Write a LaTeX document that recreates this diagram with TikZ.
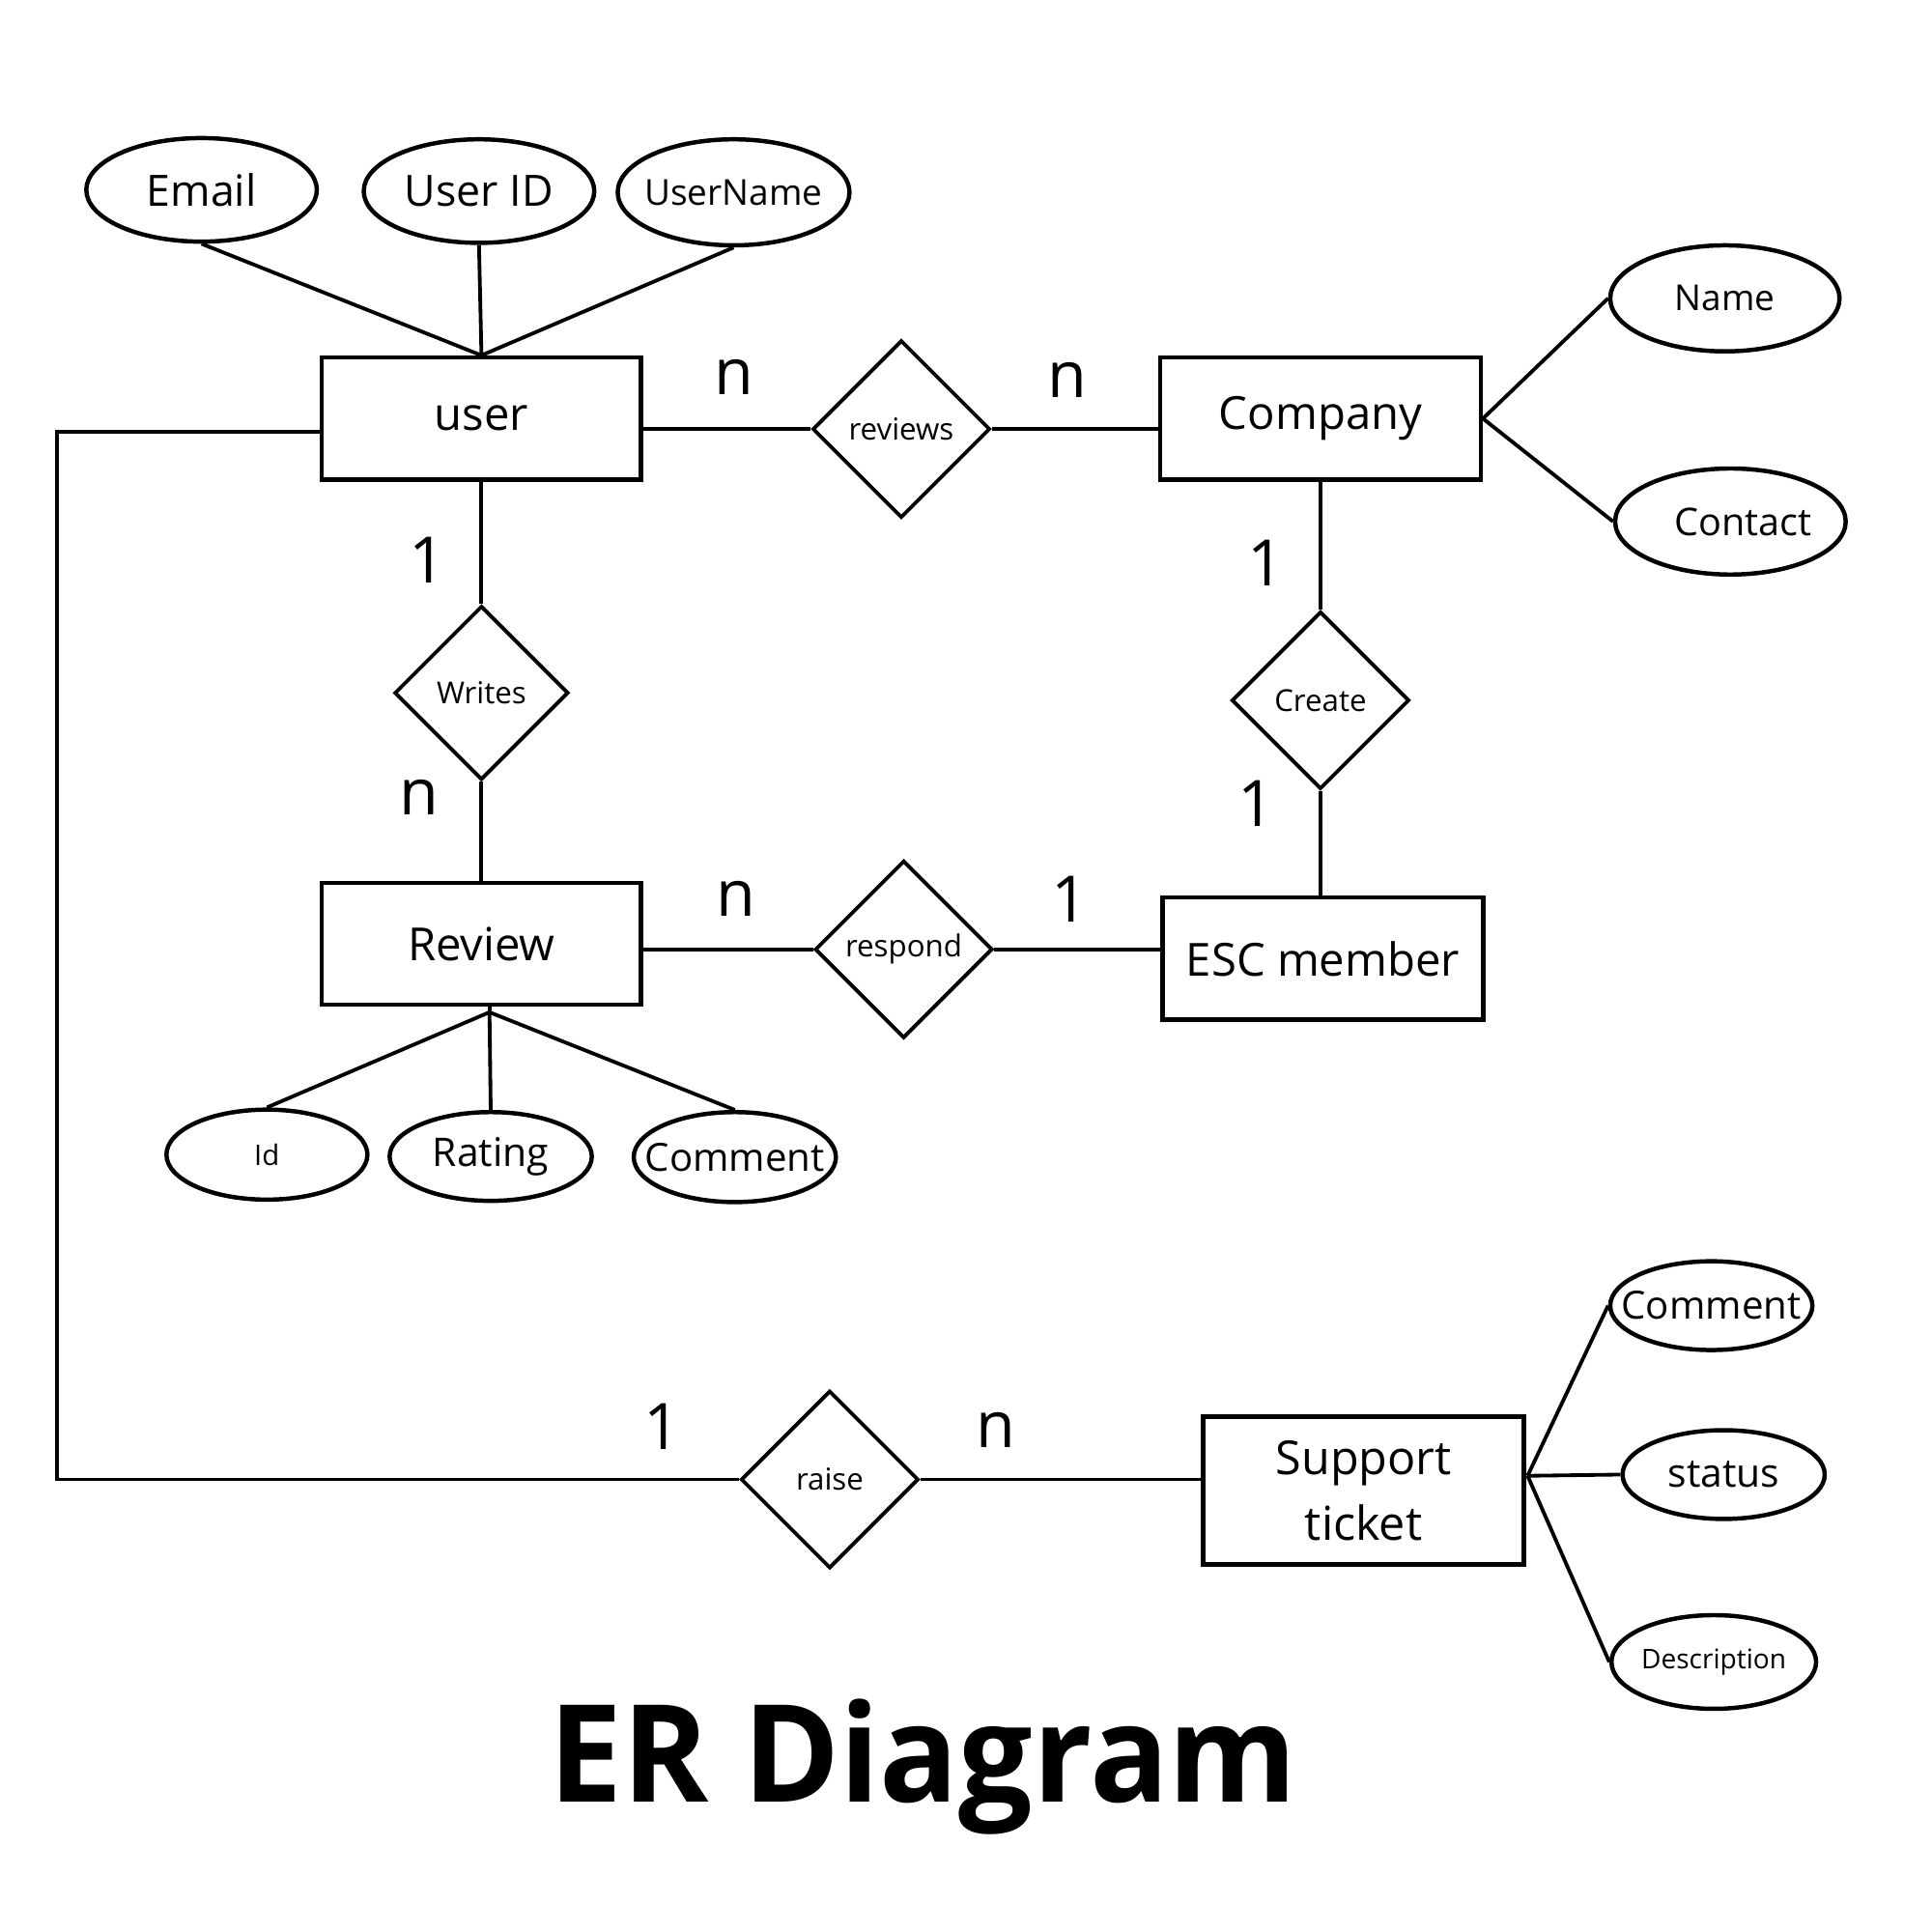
\documentclass[tikz,border=0pt]{standalone}
\usepackage{fontspec}
\setmainfont{Open Sans}
\usetikzlibrary{shapes.geometric}
\newcommand\zw[1]{\makebox[0pt]{#1}}
\tikzset{
  ent/.style={draw, line width=3.5pt, rectangle, minimum width=259pt, minimum height=99pt, inner sep=0pt, font=\fontsize{37}{44}\selectfont},
  rel/.style={draw, line width=3pt, diamond, minimum width=144pt, minimum height=144pt, inner sep=0pt, font=\fontsize{24.5}{29}\selectfont},
  attr/.style={draw, line width=3.5pt, ellipse, inner sep=0pt},
  conn/.style={line width=3pt},
  card/.style={inner sep=0pt, font=\fontsize{52}{60}\selectfont},
}
\begin{document}
\begin{tikzpicture}[x=1pt,y=1pt]
\useasboundingbox (0,-22) rectangle (1567,1545);
\fill[white] (0,-22) rectangle (1567,1545);

% entities
\node[ent] (user) at (390.5,1205.5) {user};
\node[ent, minimum width=260pt] (company) at (1071,1205.5) {Company};
\node[ent] (review) at (390.5,779.5) {Review};
\node[ent, minimum width=260pt] (esc) at (1073,767.5) {ESC member};
\node[ent, minimum width=260pt, minimum height=120pt, align=center, font=\fontsize{38}{53}\selectfont] (ticket) at (1106,336) {Support\\ticket};

% relationships
\node[rel] (reviews) at (731,1197) {reviews};
\node[rel, minimum width=141pt, minimum height=141pt] (writes) at (390.5,983) {Writes};
\node[rel] (create) at (1071,977) {Create};
\node[rel] (respond) at (733,775) {respond};
\node[rel] (raise) at (673,345) {raise};

% attributes
\node[attr, minimum width=187pt, minimum height=84pt, font=\fontsize{35}{42}\selectfont] (email) at (163.5,1391) {\zw{Email}};
\node[attr, minimum width=187pt, minimum height=84pt, font=\fontsize{35}{42}\selectfont] (userid) at (388.5,1390) {\zw{User ID}};
\node[attr, minimum width=188pt, minimum height=86pt, font=\fontsize{29}{35}\selectfont] (username) at (595,1389) {\zw{UserName}};
\node[attr, minimum width=186pt, minimum height=86pt, font=\fontsize{29}{35}\selectfont] (name) at (1399,1303) {\zw{Name}};
\node[attr, minimum width=187pt, minimum height=86pt, font=\fontsize{31}{37}\selectfont] (contact) at (1403.5,1122) {\zw{\hspace*{20pt}Contact}};
\node[attr, minimum width=163pt, minimum height=73pt, font=\fontsize{23}{28}\selectfont] (id) at (216.5,608.5) {\zw{Id}};
\node[attr, minimum width=164pt, minimum height=72pt, font=\fontsize{32}{38}\selectfont] (rating) at (398,607) {\zw{Rating}};
\node[attr, minimum width=164pt, minimum height=73pt, font=\fontsize{31.5}{38}\selectfont] (comment) at (596,606.5) {\zw{Comment}};
\node[attr, minimum width=164pt, minimum height=72pt, font=\fontsize{31.5}{38}\selectfont] (comment2) at (1388,486) {\zw{Comment}};
\node[attr, minimum width=164pt, minimum height=72pt, font=\fontsize{32}{38}\selectfont] (status) at (1398,349) {\zw{status}};
\node[attr, minimum width=166pt, minimum height=76pt, font=\fontsize{22}{27}\selectfont] (desc) at (1390,197) {\zw{Description}};

% hubs and corners
\coordinate (revhub) at (397,724);
\coordinate (tickhub) at (1239,348);
\coordinate (cornerTop) at (46,1195);
\coordinate (cornerBot) at (46,345);

% user attributes
\draw[conn] (email.south) -- (user.north);
\draw[conn] (userid.south) -- (user.north);
\draw[conn] (username.south) -- (user.north);

% company attributes
\draw[conn] (company.east) -- (name.west);
\draw[conn] (company.east) -- (contact.west);

% review attributes
\draw[conn] (review.south -| revhub) -- (revhub);
\draw[conn] (revhub) -- (id.north);
\draw[conn] (revhub) -- (rating.north);
\draw[conn] (revhub) -- (comment.north);

% ticket attributes
\draw[conn] (tickhub) -- (comment2.west);
\draw[conn] (tickhub) -- (status.west);
\draw[conn] (tickhub) -- (desc.west);

% relationship connectors
\draw[conn] (user.east |- reviews) -- (reviews.west);
\draw[conn] (reviews.east) -- (company.west |- reviews.east);
\draw[conn] (company.south) -- (create.north);
\draw[conn] (create.south) -- (create.south |- esc.north);
\draw[conn] (user.south) -- (writes.north);
\draw[conn] (writes.south) -- (writes.south |- review.north);
\draw[conn] (review.east |- respond) -- (respond.west);
\draw[conn] (respond.east) -- (esc.west |- respond.east);
\draw[conn] (user.west |- cornerTop) -- (cornerTop) -- (cornerBot) -- (raise.west);
\draw[conn] (raise.east) -- (ticket.west |- raise.east);

% cardinalities
\node[card] (c1) at (595,1239) {n};
\node[card] (c2) at (866,1237) {n};
\node[card] (c3) at (347,1091) {1};
\node[card] (c4) at (340,898) {n};
\node[card] (c5) at (1027,1088) {1};
\node[card] (c6) at (1019,893) {1};
\node[card] (c7) at (597,816) {n};
\node[card] (c8) at (868,816) {1};
\node[card] (c9) at (537,388) {1};
\node[card] (c10) at (808,385) {n};

% title
\node[anchor=base, inner sep=0pt, font=\fontsize{110}{130}\selectfont\bfseries] (title) at (749,83) {\scalebox{0.965}[1]{ER Diagram}};
\end{tikzpicture}
\end{document}
